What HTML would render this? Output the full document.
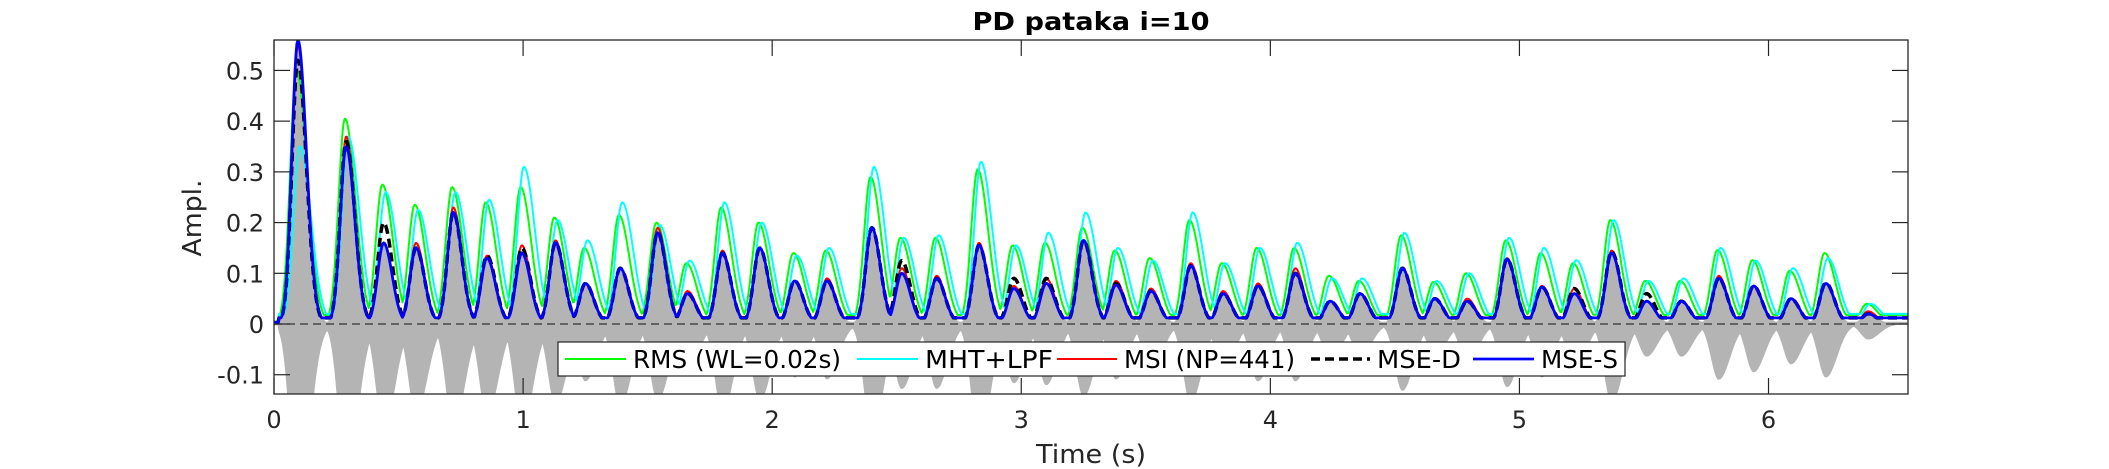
<!DOCTYPE html>
<html><head><meta charset="utf-8"><style>
html,body{margin:0;padding:0;background:#fff;}
svg{display:block;font-family:"DejaVu Sans","Liberation Sans",sans-serif;}
</style></head><body>
<svg id="chart" width="2109" height="469" viewBox="0 0 2109 469" xmlns="http://www.w3.org/2000/svg">
<rect width="2109" height="469" fill="#fff"/>
<text x="1091" y="30" text-anchor="middle" font-size="25" font-weight="bold" fill="#000" textLength="237" lengthAdjust="spacingAndGlyphs">PD pataka i=10</text>
<defs><clipPath id="pc"><rect x="274" y="40" width="1634" height="354"/></clipPath></defs>
<g id="plot" clip-path="url(#pc)"></g>
<g id="axes"></g>
<text x="1091" y="463" text-anchor="middle" font-size="26" fill="#262626" textLength="110" lengthAdjust="spacingAndGlyphs">Time (s)</text>
<text transform="translate(201,218) rotate(-90)" text-anchor="middle" font-size="26" fill="#262626" textLength="77" lengthAdjust="spacingAndGlyphs">Ampl.</text>
<g id="legend"></g>
</svg>
<script>
// ---- data (peak times in s, peak amplitudes per series) ----
const peakTimes = [0.096,0.29,0.44,0.57,0.72,0.855,0.995,1.13,1.25,1.39,1.54,1.66,1.80,1.95,2.09,2.22,2.40,2.52,2.66,2.83,2.97,3.10,3.25,3.38,3.52,3.68,3.81,3.95,4.10,4.24,4.36,4.53,4.66,4.79,4.95,5.09,5.22,5.37,5.51,5.65,5.80,5.94,6.09,6.23,6.40];
const rmsPeaks = [0.50,0.405,0.275,0.235,0.27,0.24,0.27,0.21,0.15,0.215,0.20,0.12,0.23,0.20,0.14,0.145,0.29,0.17,0.17,0.305,0.155,0.16,0.19,0.145,0.13,0.205,0.12,0.15,0.15,0.095,0.085,0.175,0.083,0.10,0.165,0.14,0.12,0.205,0.085,0.085,0.146,0.126,0.105,0.14,0.04];
const mhtPeaks = [0.35,0.37,0.26,0.225,0.26,0.245,0.31,0.205,0.165,0.24,0.195,0.125,0.24,0.20,0.135,0.15,0.31,0.17,0.175,0.32,0.155,0.18,0.22,0.15,0.125,0.22,0.12,0.15,0.16,0.09,0.09,0.18,0.085,0.10,0.17,0.15,0.126,0.205,0.085,0.09,0.15,0.125,0.11,0.13,0.04];
const msiPeaks = [0.55,0.37,0.16,0.16,0.23,0.135,0.155,0.165,0.08,0.11,0.19,0.065,0.145,0.15,0.085,0.09,0.19,0.11,0.095,0.16,0.075,0.09,0.165,0.085,0.07,0.12,0.065,0.08,0.11,0.045,0.06,0.11,0.05,0.05,0.13,0.075,0.07,0.145,0.045,0.045,0.095,0.075,0.05,0.08,0.025];
const mseDPeaks = [0.52,0.36,0.20,0.15,0.22,0.135,0.15,0.16,0.08,0.11,0.18,0.06,0.14,0.15,0.085,0.085,0.19,0.125,0.09,0.155,0.09,0.09,0.165,0.08,0.065,0.115,0.06,0.075,0.10,0.045,0.06,0.11,0.05,0.045,0.128,0.073,0.07,0.143,0.06,0.045,0.09,0.075,0.05,0.081,0.02];
const mseSPeaks = [0.56,0.35,0.16,0.15,0.22,0.13,0.14,0.16,0.08,0.11,0.18,0.06,0.14,0.15,0.085,0.085,0.19,0.10,0.09,0.155,0.07,0.08,0.165,0.077,0.065,0.115,0.06,0.075,0.10,0.045,0.06,0.11,0.05,0.045,0.128,0.073,0.06,0.14,0.045,0.045,0.09,0.075,0.05,0.08,0.02];
const xTicks = [0,1,2,3,4,5,6];
const yTicks = [-0.1,0,0.1,0.2,0.3,0.4,0.5];
const yTickLabels = ["-0.1","0","0.1","0.2","0.3","0.4","0.5"];
const legendLabels = ["RMS (WL=0.02s)","MHT+LPF","MSI (NP=441)","MSE-D","MSE-S"];

const NS="http://www.w3.org/2000/svg";
const X0=274,X1=1908,Y0=40,Y1=394, TMIN=0,TMAX=6.56, VMIN=-0.138, VMAX=0.56;
const sx=t=>X0+(t-TMIN)/(TMAX-TMIN)*(X1-X0);
const sy=v=>Y1-(v-VMIN)/(VMAX-VMIN)*(Y1-Y0);
function el(tag,attrs,parent){const e=document.createElementNS(NS,tag);for(const k in attrs)e.setAttribute(k,attrs[k]);parent.appendChild(e);return e;}
function envelope(peaks,shift,wRise,wFall,base){
  const pts=[];
  for(let t=0;t<=TMAX+0.001;t+=0.004){
    let v=base;
    for(let i=0;i<peakTimes.length;i++){
      const d=t-(peakTimes[i]+shift);const w=d<0?wRise:wFall;
      const p=peaks[i]*Math.exp(-(d*d)/(2*w*w));
      if(p>v)v=p;
    }
    if(t<0.02)v=Math.min(v,0.003);
    pts.push([t,v]);
  }
  return pts;
}
const plot=document.getElementById('plot');
// gray waveform
const topEnv=envelope(mseSPeaks,0,0.025,0.036,0.004), botEnv=envelope(rmsPeaks,0,0.03,0.045,0.0);
let wd='M'+topEnv.map(p=>sx(p[0]).toFixed(1)+','+sy(p[1]).toFixed(1)).join('L');
wd+='L'+botEnv.slice().reverse().map(p=>sx(p[0]).toFixed(1)+','+sy(-Math.min(0.2,p[1]*0.75)).toFixed(1)).join('L')+'Z';
const wave=el('path',{d:wd,fill:'#b4b4b4',stroke:'#b4b4b4','stroke-width':'0.6'},plot);


const zl=el('line',{x1:X0,x2:X1,y1:sy(0),y2:sy(0),stroke:'#333','stroke-width':'1.2','stroke-dasharray':'8,5'},plot);


const series=[
 {p:rmsPeaks,s:-0.005,r:0.026,f:0.042,b:0.018,c:'#00ff00',w:2,dash:null,n:'rms-line'},
 {p:mhtPeaks,s:0.008,r:0.026,f:0.044,b:0.02,c:'#00ffff',w:2,dash:null,n:'mht-lpf-line'},
 {p:msiPeaks,s:0,r:0.024,f:0.034,b:0.012,c:'#ff0000',w:2,dash:null,n:'msi-line'},
 {p:mseDPeaks,s:0,r:0.024,f:0.034,b:0.012,c:'#000000',w:3.5,dash:'9,5',n:'mse-d-line'},
 {p:mseSPeaks,s:0,r:0.024,f:0.034,b:0.012,c:'#0000ff',w:2.8,dash:null,n:'mse-s-line'}
];
series.forEach(S=>{
  const pts=envelope(S.p,S.s,S.r,S.f,S.b);
  const a={d:'M'+pts.map(p=>sx(p[0]).toFixed(1)+','+sy(p[1]).toFixed(1)).join('L'),fill:'none',stroke:S.c,'stroke-width':S.w,'stroke-linejoin':'round'};
  if(S.dash)a['stroke-dasharray']=S.dash;
  const e=el('path',a,plot);
  
  
});
// axes
const ax=document.getElementById('axes');
const box=el('rect',{x:X0,y:Y0,width:X1-X0,height:Y1-Y0,fill:'none',stroke:'#262626','stroke-width':'1.3'},ax);


xTicks.forEach(t=>{
  const x=sx(t);
  el('line',{x1:x,x2:x,y1:Y1,y2:Y1-16,stroke:'#262626','stroke-width':'1.2'},ax);
  el('line',{x1:x,x2:x,y1:Y0,y2:Y0+16,stroke:'#262626','stroke-width':'1.2'},ax);
  const tx=el('text',{x:x,y:428,'text-anchor':'middle','font-size':'24',fill:'#262626'},ax);
  tx.textContent=String(t);
  
  
});
yTicks.forEach((v,i)=>{
  const y=sy(v);
  el('line',{x1:X0,x2:X0+16,y1:y,y2:y,stroke:'#262626','stroke-width':'1.2'},ax);
  el('line',{x1:X1,x2:X1-16,y1:y,y2:y,stroke:'#262626','stroke-width':'1.2'},ax);
  const tx=el('text',{x:264,y:y+9,'text-anchor':'end','font-size':'24',fill:'#262626'},ax);
  tx.textContent=yTickLabels[i];
  
  
});
// legend
const lg=document.getElementById('legend');
el('rect',{x:558,y:342,width:1067,height:34,fill:'#fff',stroke:'#262626','stroke-width':'1.2'},lg);
const lx=[565,857,1057,1311,1473], lw=[61,61,60,59,61], tw=[208,128,171,84,77];
legendLabels.forEach((lab,i)=>{
  const S=series[i];
  const a={x1:lx[i],x2:lx[i]+lw[i],y1:359,y2:359,stroke:S.c,'stroke-width':S.w};
  if(S.dash)a['stroke-dasharray']=S.dash;
  el('line',a,lg);
  const tx=el('text',{x:lx[i]+lw[i]+7,y:368,'font-size':'25',fill:'#000',textLength:tw[i],lengthAdjust:'spacingAndGlyphs'},lg);
  tx.textContent=lab;
  
  
});
</script>
</body></html>
